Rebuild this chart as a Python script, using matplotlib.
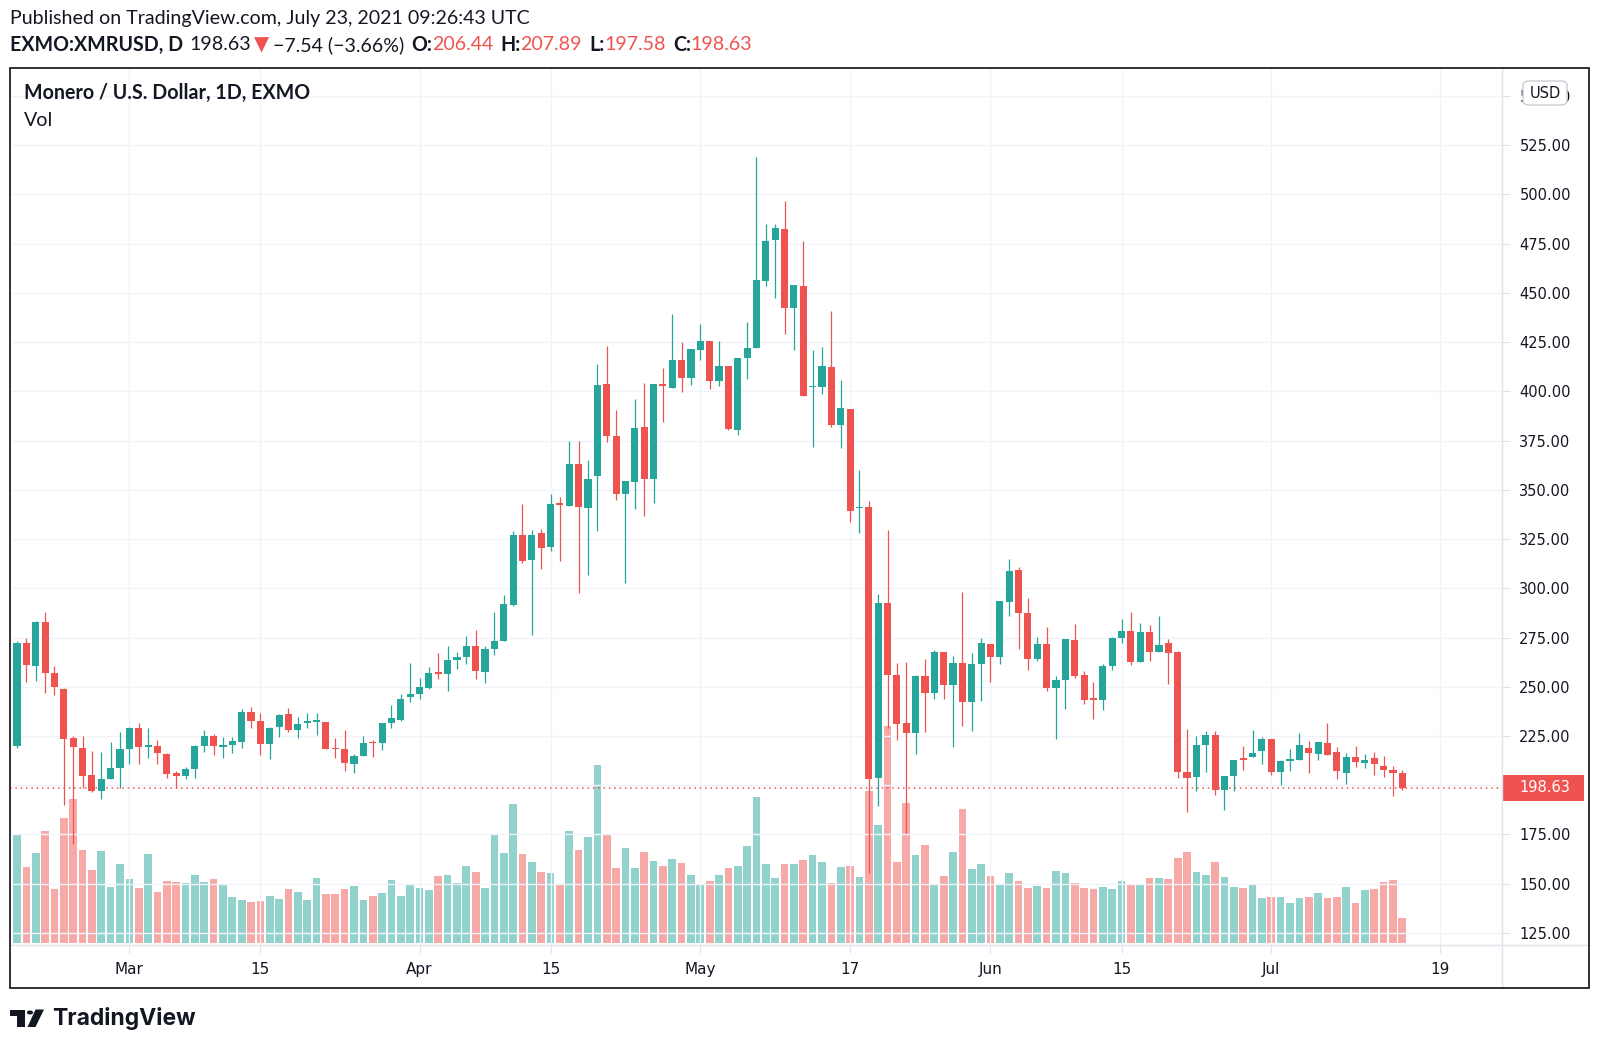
import matplotlib
matplotlib.use('Agg')
import matplotlib.pyplot as plt
import matplotlib.transforms as mtransforms
from matplotlib.patches import Rectangle, FancyBboxPatch, Polygon, Circle
from matplotlib.lines import Line2D
import numpy as np
import pandas as pd

# ---------------------------------------------------------------- data
start_date = '2021-02-17'

opens = [220, 272, 260.4, 282.8, 257, 249.1, 223.8, 219.1, 205, 197,
         203.3, 208.9, 218.2, 228.9, 219.5, 219.7, 216, 206.4, 204.7, 208.2,
         220.1, 225, 219.5, 220.2, 222, 237.2, 232.5, 221, 229.4, 236,
         228, 231.5, 232, 232.1, 218.6, 218.4, 210.8, 215, 221.6, 221.6,
         231.4, 233.1, 244.6, 246.3, 249.2, 257, 256.4, 263.5, 264.9, 270.8,
         257.6, 269.4, 273.3, 291.4, 327.2, 314.2, 328, 320.9, 343.4, 341.7,
         363.3, 340.5, 356.9, 403.7, 377.4, 347.8, 354.1, 381.9, 355.7, 403.7,
         401.9, 415.7, 406.7, 421.1, 425.7, 405.2, 412.7, 380.2, 417, 422.1,
         456.2, 476.7, 482.6, 442.1, 453.4, 402, 402.2, 412.3, 383.1, 391.2,
         340.5, 341.2, 203.5, 292.6, 255.9, 231.4, 226.7, 255.4, 246.6, 267.7,
         250.9, 262.3, 242.4, 261.5, 271.6, 265.2, 293.1, 309.1, 287.2, 264,
         271.5, 249.2, 253.4, 273.7, 255.9, 243.5, 243.3, 260.6, 275, 278.5,
         262.5, 278, 267.5, 272.4, 267.4, 206.8, 204, 220.5, 225.6, 197.7,
         204.8, 213.1, 214.1, 217.5, 223.6, 206.5, 212.3, 212.9, 218.8, 216,
         221.4, 217.1, 206.2, 214.1, 211.2, 213.8, 209.9, 207.8, 206.44]
highs = [273, 275, 283.5, 287.9, 260.4, 249.5, 225, 225, 217.4, 216.7,
         221.8, 227.2, 229.7, 231.4, 229.2, 223, 216.2, 207, 209.4, 220.5,
         228, 226, 224.7, 224.7, 238.6, 239.6, 236.5, 229.5, 236, 239.4,
         234.8, 236.5, 236.8, 232.3, 224.2, 228, 215.8, 225, 223, 231.6,
         240.8, 246.1, 262.2, 254.6, 260.2, 267.2, 270.8, 267.7, 275.8, 278.7,
         270.8, 288, 296.8, 328.9, 342.6, 329.4, 330.2, 348, 346.3, 374.8,
         374.8, 365, 414, 423, 390.4, 354.4, 396.3, 404.4, 403.7, 412,
         439, 425, 421.3, 434, 425.7, 425.7, 412.7, 416.9, 435.1, 519.1,
         484.9, 484.9, 496.5, 453.7, 476.5, 420.7, 422.5, 440.7, 405.6, 391.2,
         360, 344.3, 297.3, 329.4, 262.2, 262.7, 255.9, 264, 268.9, 267.7,
         265.5, 298.1, 267.2, 274.8, 271.6, 293.6, 314.7, 310.8, 294.8, 275.3,
         280.1, 255.4, 274.2, 282.1, 258.1, 252.2, 261.3, 275.3, 284.3, 287.8,
         282.2, 281.1, 286, 274.1, 268.4, 228.6, 225.1, 227.6, 227.6, 204.8,
         212.9, 219.7, 228.1, 224.4, 223.6, 212.9, 218.2, 226.4, 222.6, 222.2,
         231.5, 219.3, 216.6, 219.7, 216, 217.1, 214.6, 209.9, 207.89]
lows = [219, 252.6, 253, 246.7, 245.7, 190.2, 170.4, 198.4, 196.7, 193,
        203, 198.4, 210.8, 210.8, 213.6, 210.6, 203.5, 198.4, 203, 203.5,
        217, 215.3, 213.6, 216.2, 218.7, 228.9, 215.3, 213.1, 224.7, 227.2,
        224.2, 228.9, 225.5, 218.2, 213.6, 207.2, 206, 215, 214.5, 217.9,
        229, 232.8, 242.4, 243.6, 248.7, 253.8, 247.8, 258.8, 261.8, 253.7,
        251.7, 266.1, 273, 291, 312.9, 276.2, 309.6, 318.9, 314, 341.7,
        297.5, 306.8, 329.2, 374.3, 344.8, 302.5, 340, 336.7, 343.4, 384.5,
        401.9, 399.7, 403, 415.7, 401.3, 402.5, 380.2, 377.7, 406, 422.1,
        453.2, 447.4, 429.2, 421.2, 397.6, 371.8, 398.8, 381.9, 371, 333.8,
        328.2, 155.4, 189.5, 228.9, 223, 175.7, 215.7, 226.9, 243.6, 244,
        219.6, 230.1, 227.5, 242.9, 252.5, 261.8, 286, 269.4, 258.5, 263.2,
        248, 223.5, 238.5, 254.2, 241.1, 233.5, 238.2, 258.5, 272.4, 260.8,
        262.5, 263.3, 267.5, 251.5, 203.7, 186.4, 197.2, 206.5, 194.8, 187.5,
        197.2, 207.5, 214.1, 210.8, 205, 199.9, 207, 212.9, 206.2, 212.9,
        215.4, 203.3, 200.7, 209.2, 208.7, 205, 204.3, 194.3, 197.58]
closes = [272, 260.8, 282.8, 256.9, 250.1, 223.5, 219.2, 204.8, 197, 203.1,
          208.9, 218.6, 228.9, 219.6, 220, 216.2, 205.8, 204.8, 208.2, 220.1,
          225, 220.1, 220.5, 222.4, 237.2, 232.8, 221.1, 229.2, 235.7, 228,
          231.1, 232, 232.3, 218.4, 218.2, 211.1, 215, 221.3, 221.2, 231.4,
          234, 243.8, 246.3, 249.7, 256.8, 256.5, 263.5, 265.2, 270.8, 258,
          269.4, 273.3, 292.2, 327.2, 313.7, 327.2, 320.4, 342.9, 342.2, 363.3,
          341.4, 355.7, 403.4, 377.4, 348.1, 354.4, 381.4, 355.7, 403.7, 402.5,
          416, 406.7, 421.3, 425.5, 405.2, 412.7, 380.6, 416.9, 422.1, 456.6,
          476.5, 483, 442.1, 453.7, 397.6, 402.2, 412.7, 383.1, 391.5, 339.4,
          340.7, 203, 292.6, 255.9, 231.1, 226.7, 255.6, 246.6, 267.7, 250.9,
          262.3, 242.4, 261.5, 272.3, 265.2, 293.6, 308.6, 287.2, 264, 271.5,
          249.2, 253.4, 274, 255.6, 243.3, 243.2, 260.6, 275, 278.5, 262.5,
          278, 267.5, 271.4, 267, 206.5, 203.6, 220.5, 225.6, 197.7, 204.8,
          212.9, 212.7, 216.6, 223.6, 206.5, 212.4, 212.6, 220.5, 216.6, 222.2,
          215.4, 207, 214.3, 211.7, 212.9, 210.9, 207.5, 206.2, 198.63]
volumes = [109, 76.7, 90.3, 112.7, 54.3, 125.7, 144, 93, 73.3, 92,
           56.3, 79.7, 64.7, 55.7, 89, 51.7, 62.3, 61.7, 60, 68.3,
           61.7, 64.7, 58, 46.3, 43.7, 41.3, 42, 47, 44.3, 54,
           51.7, 43.7, 65.7, 49.3, 49.3, 54.7, 57, 43.7, 47.7, 50,
           63.7, 47.7, 59.3, 55, 53.3, 67.3, 68, 60, 77.3, 71.7,
           55.7, 109.3, 90.7, 139, 89, 81, 71, 70, 59, 112.3,
           93.3, 106.7, 178.3, 109, 75.7, 95, 75, 91.3, 82, 77.3,
           84.3, 80.3, 68.7, 59.7, 62.3, 68, 75, 77.3, 97, 146.7,
           79.7, 65, 79, 79, 83, 88, 81, 60.3, 76.3, 77.3,
           66.3, 152.7, 118, 217.3, 81, 140, 88.3, 98.3, 59, 67.3,
           91, 134, 74, 79.3, 67.3, 59, 70, 62.3, 55.7, 57.3,
           55.7, 72.7, 70, 60, 55.7, 54, 56.3, 54.7, 62.3, 59,
           58, 65, 65, 64, 85.7, 91.7, 71, 68.7, 81.7, 66.3,
           56, 55.3, 58.7, 45, 46.7, 46, 40.7, 45, 46.7, 50.7,
           45, 46, 56, 40.7, 53.3, 54.7, 61.3, 63, 25]

tick_dates = ['2021-03-01', '2021-03-15', '2021-04-01', '2021-04-15', '2021-05-01',
              '2021-05-17', '2021-06-01', '2021-06-15', '2021-07-01', '2021-07-19']
tick_labels = ['Mar', '15', 'Apr', '15', 'May', '17', 'Jun', '15', 'Jul', '19']
price_ticks = [125, 150, 175, 200, 225, 250, 275, 300, 325, 350, 375, 400,
               425, 450, 475, 500, 525, 550]
last_price = 198.63

# ---------------------------------------------------------------- style
W, H = 1600, 1046
UP = '#26a69a'
DOWN = '#ef5350'
UP_VOL = '#92d2cc'
DOWN_VOL = '#f7a9a7'
TXT = '#131722'
GRID = '#f0f3fa'
SEP = '#e0e3eb'
HFONT = ['Lato', 'DejaVu Sans']
HSIZE = 14.1


def fx(px):
    return px / W


def fy(py):
    return 1 - py / H


fig = plt.figure(figsize=(W / 100, H / 100), dpi=100, facecolor='white')

# pane in pixel coordinates of the picture
L, R, T, B = 10.2, 1502, 68.4, 945
rect = [fx(L), fy(B), fx(R) - fx(L), fy(T) - fy(B)]

o = np.array(opens)
h = np.array(highs)
lo = np.array(lows)
c = np.array(closes)
v = np.array(volumes)
x = np.arange(len(c))
up = c >= o
x_lim = (-0.73, 158.65)

# volume pane underneath
vax = fig.add_axes(rect)
vax.set_facecolor('white')
vax.bar(x, v, width=0.82, bottom=0,
        color=np.where(up, UP_VOL, DOWN_VOL), linewidth=0)
vax.set_xlim(*x_lim)
vax.set_ylim(-1.7, (B - T) - 1.7)
vax.axis('off')

# price pane on top
ax = fig.add_axes(rect)
ax.patch.set_visible(False)
ax.set_xlim(*x_lim)
ax.set_ylim(118.9, 563.9)

ax.vlines(x, lo, h, colors=np.where(up, UP, DOWN), linewidth=0.9, zorder=3)
body = np.maximum(np.abs(c - o), 0.9)
ax.bar(x, body, width=0.76, bottom=np.minimum(o, c),
       color=np.where(up, UP, DOWN), linewidth=0, zorder=4)

ax.axhline(last_price, color=DOWN, linestyle=(0, (1, 2.5)), linewidth=1.1, zorder=2)

start = pd.Timestamp(start_date)
ticks_x = [(pd.Timestamp(d) - start).days for d in tick_dates]
ax.set_xticks(ticks_x)
ax.set_xticklabels(tick_labels)
ax.set_yticks(price_ticks)
# the 200.00 label sits under the last-price badge
ax.set_yticklabels(['' if abs(p - last_price) < 12 else f'{p:.2f}' for p in price_ticks])
ax.yaxis.tick_right()
ax.grid(True, color=GRID, linewidth=1.0, zorder=0)
ax.set_axisbelow(True)
ax.tick_params(axis='x', length=6, color=SEP, pad=6, labelsize=11, labelcolor=TXT)
ax.tick_params(axis='y', length=6, color=SEP, pad=6.5, labelsize=10.5, labelcolor=TXT)
for s in ax.spines.values():
    s.set_visible(False)

# last price label on the price scale
blend = mtransforms.blended_transform_factory(fig.transFigure, ax.transData)
ax.add_patch(Rectangle((fx(1502), last_price - 6.4), fx(1584) - fx(1502), 12.8,
                       transform=blend, facecolor=DOWN, edgecolor='none',
                       clip_on=False, zorder=10))
ax.text(fx(1545), last_price, f'{last_price:.2f}', transform=blend, color='white',
        fontsize=10.5, ha='center', va='center', clip_on=False, zorder=11)

# currency badge
fig.add_artist(FancyBboxPatch((fx(1523), fy(105)), fx(1567) - fx(1523), fy(81) - fy(105),
                              boxstyle='round,pad=0,rounding_size=0.004',
                              transform=fig.transFigure, facecolor='white',
                              edgecolor='#c9ccd4', linewidth=1.0, zorder=20))
fig.text(fx(1545), fy(93), 'USD', color=TXT, fontsize=10.5, ha='center', va='center', zorder=21)

# frame and separators
fig.add_artist(Rectangle((fx(10.2), fy(988)), fx(1589) - fx(10.2), fy(68.4) - fy(988),
                         transform=fig.transFigure, fill=False, edgecolor='#222222',
                         linewidth=1.3, zorder=30))
fig.add_artist(Line2D([fx(1502), fx(1502)], [fy(68.4), fy(988)], color=SEP, linewidth=1.0))
fig.add_artist(Line2D([fx(10.2), fx(1589)], [fy(945), fy(945)], color=SEP, linewidth=1.0))

# header texts
fig.text(fx(10), fy(18.5), 'Published on TradingView.com, July 23, 2021 09:26:43 UTC',
         fontsize=HSIZE, color=TXT, family=HFONT, va='center', ha='left')

renderer = fig.canvas.get_renderer()
runs = [('EXMO:XMRUSD, D', TXT, 'bold', 6),
        ('198.63', TXT, 'normal', 3),
        ('\u25BC', DOWN, 'normal', 4),
        ('\u22127.54 (\u22123.66%)', TXT, 'normal', 7),
        ('O:', TXT, 'bold', 0), ('206.44', DOWN, 'normal', 7),
        ('H:', TXT, 'bold', 0), ('207.89', DOWN, 'normal', 7),
        ('L:', TXT, 'bold', 0), ('197.58', DOWN, 'normal', 7),
        ('C:', TXT, 'bold', 0), ('198.63', DOWN, 'normal', 0)]
xpos = 10
for s, col, wt, gap in runs:
    t = fig.text(fx(xpos), fy(45), s, fontsize=HSIZE, color=col, weight=wt,
                 family=HFONT, va='center', ha='left')
    xpos += t.get_window_extent(renderer).width + gap

fig.text(fx(23.5), fy(93), 'Monero / U.S. Dollar, 1D, EXMO', fontsize=HSIZE, weight='bold',
         color=TXT, family=HFONT, va='center', ha='left')
fig.text(fx(23.5), fy(120), 'Vol', fontsize=HSIZE, color=TXT, family=HFONT,
         va='center', ha='left')

# TradingView logo
logo = '#131722'
fig.add_artist(Polygon([(fx(9.5), fy(1009.5)), (fx(25), fy(1009.5)), (fx(25), fy(1027)),
                        (fx(17), fy(1027)), (fx(17), fy(1015.5)), (fx(9.5), fy(1015.5))],
                       closed=True, transform=fig.transFigure, facecolor=logo, edgecolor='none'))
fig.add_artist(Circle((fx(30), fy(1012.5)), 3.1 / W, transform=fig.transFigure,
                      facecolor=logo, edgecolor='none'))
fig.add_artist(Polygon([(fx(35.5), fy(1009.5)), (fx(44), fy(1009.5)), (fx(35.5), fy(1027)),
                        (fx(27.5), fy(1027))],
                       closed=True, transform=fig.transFigure, facecolor=logo, edgecolor='none'))
fig.text(fx(52), fy(1018), 'TradingView', fontsize=16.5, weight='bold', color=logo,
         family=['Inter', 'DejaVu Sans'], va='center', ha='left')

fig.savefig('out.png', dpi=100, facecolor='white')
